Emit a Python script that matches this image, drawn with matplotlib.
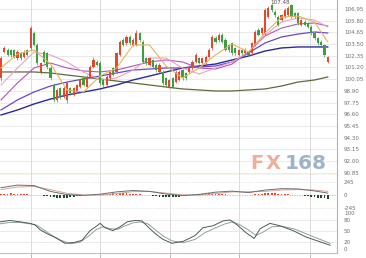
import matplotlib
matplotlib.use('Agg')

import matplotlib.pyplot as plt

# --- candle data (hourly bars) ---
opens = [100.13, 102.76, 102.92, 102.92, 102.92, 102.10, 102.59, 102.26, 102.92, 103.08,
         104.56, 103.41, 100.79, 102.76, 102.59, 101.12, 99.48, 98.00, 99.15, 98.33,
         98.00, 99.15, 98.50, 98.82, 99.32, 100.13, 99.32, 100.30, 101.28, 101.77,
         101.61, 99.97, 99.48, 100.13, 101.12, 100.79, 102.43, 103.90, 103.57, 104.23,
         103.41, 103.41, 104.56, 103.74, 102.10, 101.45, 101.94, 101.45, 100.79, 100.79,
         100.13, 99.32, 100.13, 99.81, 99.97, 100.95, 100.63, 100.79, 101.12, 101.77,
         102.10, 101.61, 101.61, 102.26, 103.08, 104.07, 103.90, 104.39, 103.90, 103.41,
         103.57, 103.08, 102.43, 102.92, 102.59, 102.76, 102.59, 103.41, 104.89, 104.56,
         104.56, 106.20, 107.34, 106.69, 106.20, 105.87, 106.20, 106.36, 107.34, 106.52,
         106.52, 105.38, 105.71, 105.54, 105.21, 104.56, 104.07, 103.74, 103.41, 101.77]
closes = [102.10, 103.08, 102.43, 102.43, 102.26, 102.76, 102.10, 102.76, 102.43, 105.05,
          103.41, 101.61, 101.61, 101.77, 101.28, 100.13, 98.00, 98.99, 98.33, 99.15,
          99.64, 98.66, 99.15, 99.48, 99.97, 99.48, 100.30, 101.28, 101.94, 101.45,
          99.64, 99.48, 100.30, 100.79, 100.46, 102.59, 103.74, 103.41, 104.23, 103.57,
          103.90, 104.56, 103.90, 101.77, 101.61, 102.10, 101.28, 100.95, 101.45, 99.64,
          99.48, 99.97, 99.32, 100.79, 100.79, 100.13, 100.13, 101.28, 101.77, 102.43,
          101.61, 102.10, 102.26, 102.92, 104.23, 103.74, 104.39, 103.74, 102.92, 102.92,
          102.59, 102.59, 102.92, 102.59, 102.92, 102.43, 103.57, 104.72, 104.39, 105.05,
          106.85, 107.02, 106.85, 106.36, 105.38, 106.36, 106.85, 107.02, 106.20, 106.20,
          105.54, 105.87, 105.38, 105.21, 104.56, 104.07, 103.57, 103.41, 102.43, 102.26]
highs = [102.30, 103.30, 103.10, 103.05, 103.00, 102.90, 102.75, 102.95, 103.05, 105.25,
         104.80, 103.60, 101.75, 102.95, 102.70, 101.30, 99.65, 99.15, 99.30, 99.35,
         99.80, 99.30, 99.30, 99.60, 100.10, 100.25, 100.45, 101.45, 102.20, 101.95,
         101.80, 100.10, 100.45, 100.95, 101.25, 102.75, 103.90, 104.05, 104.40, 104.40,
         104.10, 104.90, 104.70, 103.90, 102.25, 102.25, 102.05, 101.60, 101.60, 100.95,
         100.30, 100.10, 100.25, 100.95, 100.95, 101.10, 100.75, 101.45, 101.95, 102.60,
         102.25, 102.25, 102.40, 103.10, 104.40, 104.25, 104.55, 104.55, 104.05, 103.55,
         103.70, 103.20, 103.05, 103.05, 103.10, 102.90, 103.70, 104.85, 105.05, 105.20,
         107.00, 107.20, 107.48, 106.85, 106.35, 106.50, 107.00, 107.20, 107.40, 106.65,
         106.65, 106.00, 105.85, 105.70, 105.35, 104.70, 104.20, 103.90, 103.55, 102.35]
lows = [99.90, 102.60, 102.30, 102.25, 102.15, 101.95, 101.95, 102.15, 102.30, 102.95,
        103.30, 101.45, 100.60, 101.60, 101.10, 99.95, 97.80, 97.85, 98.15, 98.20,
        97.70, 98.50, 98.40, 98.70, 99.20, 99.35, 99.20, 100.20, 101.15, 101.30,
        99.50, 99.20, 99.35, 100.00, 100.35, 100.65, 102.30, 103.30, 103.45, 103.45,
        103.30, 103.30, 103.75, 101.60, 101.45, 101.30, 101.15, 100.80, 100.65, 99.50,
        99.30, 99.20, 99.15, 99.70, 99.85, 100.00, 100.00, 100.65, 101.00, 101.65,
        101.50, 101.50, 101.50, 102.15, 102.95, 103.60, 103.75, 103.60, 102.80, 102.75,
        102.45, 102.40, 102.30, 102.45, 102.45, 102.30, 102.45, 103.30, 104.25, 104.40,
        104.40, 106.05, 106.70, 106.20, 105.25, 105.75, 106.05, 106.25, 106.05, 106.05,
        105.40, 105.25, 105.25, 105.05, 104.40, 103.90, 103.40, 103.25, 102.25, 101.60]

# --- moving averages, read every 5 bars ---
ma_x = [0, 5, 10, 15, 20, 25, 30, 35, 40, 45, 50, 55, 60, 65, 70, 75, 80, 85, 90, 95, 99]
ma_orange = [101.15, 102.53, 102.92, 101.54, 98.99, 98.79, 100.36, 101.15, 103.41, 103.41, 101.35,
             100.17, 101.15, 102.43, 103.51, 102.72, 104.59, 106.16, 106.26, 105.67, 103.71]
ma_pink = [99.48, 101.15, 102.72, 102.43, 101.74, 100.76, 99.97, 100.17, 100.95, 102.13, 102.13,
           101.15, 100.56, 101.15, 101.74, 102.72, 104.39, 105.67, 106.07, 105.87, 105.18]
ma_magenta = [98.01, 99.68, 101.15, 101.64, 101.15, 100.86, 100.76, 100.95, 101.35, 101.74, 101.94,
              101.74, 101.15, 101.05, 101.54, 102.72, 104.30, 105.08, 105.48, 105.57, 105.28]
ma_violet = [97.02, 98.01, 98.79, 99.38, 99.77, 100.07, 100.36, 100.66, 100.95, 101.05, 101.15,
             101.15, 101.25, 101.35, 101.74, 102.63, 103.61, 104.20, 104.49, 104.69, 104.59]
ma_navy = [96.53, 97.02, 97.61, 98.10, 98.50, 98.79, 99.09, 99.48, 99.97, 100.36, 100.76,
           101.15, 101.35, 101.54, 101.94, 102.33, 102.82, 103.12, 103.22, 103.22, 103.22]
ma_olive = [100.76, 100.76, 100.76, 100.66, 100.46, 100.27, 100.07, 99.87, 99.68, 99.48, 99.28,
            99.09, 98.99, 98.89, 98.89, 98.99, 99.09, 99.38, 99.77, 99.97, 100.27]

# --- MACD ---
macd_dif = [140, 189, 180, 70, 9, -5, 17, 61, 87, 70, 21, -9, 14, 56, 75, 47, 96, 122, 117, 79, 38]
macd_dea = [105, 152, 164, 103, 35, 3, 0, 31, 65, 70, 38, 5, 0, 30, 61, 65, 70, 96, 105, 96, 70]
macd_hist = [25, 28, 30, 32, 30, 28, 25, 20, 15,
             10, 5, 0, -5,
             -15, -25, -35, -45, -55, -60, -58, -50, -40, -30,
             -20, -12, -6, -2, 0, 3, 6,
             10, 15, 22, 28, 32, 35, 36, 35, 32, 28, 24, 20, 15, 10, 5,
             -5, -12, -20, -28, -35, -40, -42, -40, -35, -28, -20, -12, -5,
             3, 10, 18, 25, 30, 32, 30, 26, 22, 18, 13, 8, 4,
             0, -3, -5, -3, 0, 5,
             12, 20, 28, 34, 38, 38, 35, 30, 25, 20, 15, 10, 5,
             0, -5, -12, -20,
             -30, -40, -50, -58, -62, -65]

# --- stochastic ---
k_x = [-0.3, 2.7, 5.8, 8.8, 10.3, 11.8, 13.9, 16.4, 19.4, 22.4, 24.5, 27, 29.1, 30, 31.5, 33.9,
       36.1, 38.2, 40.6, 42.7, 44.5, 46.7, 49.1, 51.8, 55.2, 58.8, 61.2, 64.2, 67.3, 69.4, 71.5,
       74.2, 76.7, 78.5, 81.5, 84.5, 88.5, 92.4, 96.7, 99.7]
k_val = [75.7, 79.7, 75.7, 71.6, 67.6, 54.1, 43.2, 32.4, 16.2, 18.9, 24.3, 51.4, 64.9, 71.6, 59.5, 51.4,
         62.2, 75.7, 79.7, 78.4, 62.2, 43.2, 27.0, 16.2, 21.6, 37.8, 59.5, 64.9, 78.4, 81.1, 67.6,
         45.9, 29.7, 56.8, 71.6, 64.9, 51.4, 33.8, 20.3, 10.8]
d_x = [-0.3, 2.7, 5.8, 8.8, 10.9, 13.3, 15.5, 17.9, 20.9, 23.9, 26.4, 28.8, 30.9, 33, 35.5, 37.6,
       40, 42.1, 44.5, 46.7, 49.1, 51.8, 55.2, 58.8, 61.8, 64.8, 67.9, 70.3, 72.4, 74.8, 77.3,
       79.1, 82.1, 85.2, 89.1, 93, 96.7, 99.7]
d_val = [70.3, 74.3, 74.3, 70.3, 66.2, 51.4, 37.8, 25.7, 14.9, 18.9, 35.1, 54.1, 62.2, 56.8, 55.4, 64.9,
         73.0, 75.7, 70.3, 54.1, 36.5, 23.0, 17.6, 27.0, 45.9, 58.1, 70.3, 75.7, 67.6, 54.1, 37.8,
         45.9, 62.2, 63.5, 55.4, 40.5, 27.0, 16.2]

# axis labels
price_ticks = [106.95, 105.80, 104.65, 103.50, 102.35, 101.20, 100.05, 98.90, 97.75,
               96.60, 95.45, 94.30, 93.15, 92.00, 90.85]
macd_ticks = [245, 0, -245]
stoch_ticks = [100, 80, 50, 20, 0]
day_ticks = [9.1, 30.0, 51.2, 72.1, 93.6]

UP = '#e4472e'
DOWN = '#3c9e3e'
GRID = '#e2e2e2'
LBL = '#707070'
FS = 4.1
XLIM = (-0.3, 101.8)

fig = plt.figure(figsize=(3.66, 2.58), dpi=100)
ax1 = fig.add_axes([0, 0.3217, 0.9208, 0.6783])
ax2 = fig.add_axes([0, 0.1822, 0.9208, 0.1395], sharex=ax1)
ax3 = fig.add_axes([0, 0.0194, 0.9208, 0.1628], sharex=ax1)

# main panel
for y in price_ticks:
    ax1.axhline(y, color=GRID, lw=0.5, zorder=0)
for x in day_ticks:
    for a in (ax1, ax2, ax3):
        a.axvline(x, color='#d6d6d6', lw=0.6, zorder=0)

for i in range(len(opens)):
    o, c = opens[i], closes[i]
    col = UP if c >= o else DOWN
    ax1.vlines(i, lows[i], highs[i], color=col, lw=0.5, zorder=3)
    ax1.bar(i, abs(c - o) if abs(c - o) > 0.03 else 0.03, bottom=min(o, c),
            width=0.66, color=col, lw=0, zorder=3)

ax1.plot(ma_x, ma_olive, color='#5e6a3a', lw=0.9, zorder=2)
ax1.plot(ma_x, ma_navy, color='#2a2a9a', lw=1.0, zorder=2)
ax1.plot(ma_x, ma_violet, color='#6a48c8', lw=0.9, zorder=2)
ax1.plot(ma_x, ma_magenta, color='#b455b8', lw=0.8, zorder=2)
ax1.plot(ma_x, ma_pink, color='#eaa2c6', lw=0.8, zorder=2)
ax1.plot(ma_x, ma_orange, color='#e6b45a', lw=0.8, zorder=4)

ax1.text(81.6, 107.62, '107.48', fontsize=FS, color='#555555', va='center', ha='left')

# watermark: wide "FX", then "168"
ax1.text(75.4, 91.76, 'F', fontsize=14, fontweight='bold', color='#eeae9c',
         va='center', ha='left', zorder=1)
ax1.text(80.3, 91.76, 'X', fontsize=14, fontweight='bold', color='#eeae9c',
         va='center', ha='left', zorder=1)
ax1.text(85.8, 91.76, '168', fontsize=14.5, fontweight='bold', color='#9fb3c9',
         va='center', ha='left', zorder=1)

ax1.set_ylim(90.63, 107.835)
ax1.set_yticks(price_ticks)
ax1.set_yticklabels(['%.2f' % v for v in price_ticks])

# MACD panel
for y in (245, -245):
    ax2.axhline(y, color='#dcdcdc', lw=0.5, ls=(0, (2, 2)), zorder=0)
ax2.bar(range(len(macd_hist)), macd_hist, width=0.55,
        color=[UP if h > 0 else '#1d4a22' for h in macd_hist], lw=0, zorder=2)
ax2.axhline(0, color='#555555', lw=0.4, ls=(0, (1, 2)), zorder=1)
ax2.plot(ma_x, macd_dea, color='#d2a89a', lw=0.7, zorder=3)
ax2.plot(ma_x, macd_dif, color='#6c6c6c', lw=0.7, zorder=3)
ax2.set_ylim(-300, 380)
ax2.set_yticks(macd_ticks)
ax2.set_yticklabels([str(v) for v in macd_ticks])

# stochastic panel
for y in (80, 50, 20):
    ax3.axhline(y, color='#e2e2e2', lw=0.5, zorder=0)
ax3.plot(d_x, d_val, color='#8fa0a0', lw=0.7)
ax3.plot(k_x, k_val, color='#4d5a5a', lw=0.7)
ax3.set_ylim(-10.8, 106)
ax3.set_yticks(stoch_ticks)
ax3.set_yticklabels([str(v) for v in stoch_ticks])

for a in (ax1, ax2, ax3):
    a.set_xlim(*XLIM)
    a.yaxis.tick_right()
    a.tick_params(axis='y', length=0, pad=5, labelsize=FS, labelcolor=LBL)
    a.tick_params(axis='x', length=0, labelbottom=False)
    a.set_xticks(day_ticks)
    for s in ('top', 'left', 'bottom'):
        a.spines[s].set_visible(False)
    a.spines['right'].set_color('#a8b8a4')
    a.spines['right'].set_linewidth(0.8)
    a.set_facecolor('white')

ax1.spines['bottom'].set_visible(True)
ax1.spines['bottom'].set_color('#cfcf9c')
ax1.spines['bottom'].set_linewidth(1.0)
ax3.spines['bottom'].set_visible(True)
ax3.spines['bottom'].set_color('#b8c8b8')
ax3.spines['bottom'].set_linewidth(0.8)
ax3.tick_params(axis='x', length=5, color='#b0b0b0', width=0.6)

fig.savefig('out.png', dpi=100)
